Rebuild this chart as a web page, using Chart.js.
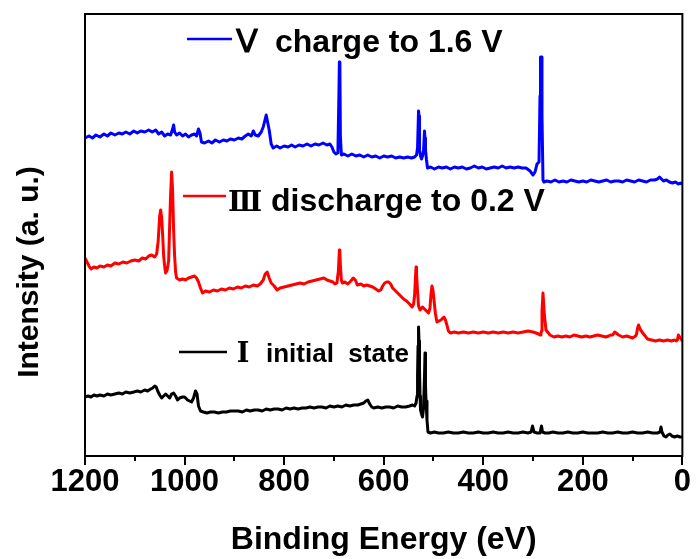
<!DOCTYPE html>
<html>
<head>
<meta charset="utf-8">
<script src="https://cdn.jsdelivr.net/npm/chart.js@4.4.1/dist/chart.umd.min.js"></script>
<style>
  html, body { margin: 0; background: #fff; }
  #wrap { width: 699px; height: 559px; }
</style>
</head>
<body>
<div id="wrap"><canvas id="xps"></canvas></div>
<script>
// ---- survey spectra: binding energy (eV) / intensity (a.u., offset per curve) ----
const chargeEnergy = [1200,1192,1185,1178,1170,1162,1155,1148,1140,1132,1125,1118,1110,1102,1095,1088,1080,1072,1065,1058,1052,1046,1040,1034,1028,1024,1022,1020,1016,1010,1004,998,992,986,980,976,972,969,966,960,952,945,938,930,922,915,908,900,892,885,878,872,866,862,858,852,846,842,838,836,834,830,826,822,815,808,800,792,785,778,770,762,754,746,738,730,722,714,708,704,700,696,692,690,689,688,687,685,680,672,664,656,648,640,632,624,616,608,600,592,584,576,568,560,552,544,538,534,532,530,529,528,526,524,522,520,518,517,516,514,512,506,498,490,482,474,466,458,450,442,434,426,418,410,402,394,386,378,370,362,354,346,338,330,322,314,306,300,296,292,288,286,285,283,282,280,278,272,264,256,248,240,232,224,216,208,200,192,184,176,168,160,152,144,136,128,120,112,104,96,88,80,72,64,56,50,46,42,38,32,26,20,14,8,4,0];
const chargeCounts = [318,320,318,321,319,322,320,323,321,323,322,324,322,325,323,325,324,326,324,326,322,324,320,322,321,327,331,324,321,323,320,322,319,321,322,320,327,323,314,313,315,313,316,314,316,315,317,316,318,317,320,322,320,325,321,320,324,329,337,341,336,326,312,308,310,308,310,309,311,309,311,310,312,310,312,311,313,311,312,309,304,302,303,360,394,392,320,301,302,300,302,300,301,299,301,299,300,298,300,299,300,298,299,298,299,298,299,301,308,345,340,306,300,297,300,305,325,318,306,296,288,289,287,289,288,289,287,289,288,289,287,288,290,288,289,287,288,289,288,290,288,289,288,289,288,288,285,281,284,292,294,360,399,399,340,276,274,275,274,276,274,275,274,276,275,274,275,274,276,275,274,275,276,274,275,275,274,276,275,274,276,275,274,276,276,277,279,277,275,276,274,273,274,272,273,272];

const dischargeEnergy = [1200,1196,1192,1188,1182,1176,1170,1162,1155,1148,1140,1132,1124,1116,1108,1100,1092,1085,1078,1072,1066,1060,1056,1053,1050,1048,1046,1044,1042,1040,1038,1035,1032,1030,1028,1026,1024,1022,1020,1018,1016,1010,1004,998,992,986,980,976,972,968,964,958,950,942,934,926,918,910,902,894,886,878,870,862,854,848,842,838,834,830,826,820,814,808,800,792,784,776,768,760,752,744,736,728,720,714,708,702,698,694,691,689,688,687,685,683,678,672,666,661,657,653,646,640,634,628,622,616,610,606,602,598,594,590,586,582,578,572,566,560,554,548,543,540,538,536,535,534,532,530,527,522,518,514,510,507,505,503,501,499,496,493,489,485,481,479,476,473,470,466,458,450,440,430,420,410,400,390,380,370,360,350,340,330,320,310,300,294,289,286,284,283,282,280,277,274,266,258,250,242,234,226,218,210,202,194,186,178,170,162,154,148,144,140,136,128,120,112,106,100,97,94,92,90,88,84,78,70,62,54,46,38,30,22,16,12,10,8,4,0];
const dischargeCounts = [198,194,190,187,189,188,190,189,191,190,193,192,194,193,195,196,195,198,197,200,201,199,202,215,240,246,238,221,200,190,183,186,195,230,262,284,265,226,200,184,178,176,177,176,178,179,180,178,174,168,163,165,164,166,165,167,166,168,167,169,168,170,169,171,170,172,176,182,184,178,173,170,166,168,169,170,171,172,173,172,174,175,176,177,178,176,175,174,172,173,185,206,204,191,176,173,174,172,175,178,176,171,172,170,171,170,169,167,165,166,170,173,174,174,172,168,166,163,160,157,155,152,149,152,160,180,189,182,165,150,146,149,147,145,143,148,162,170,166,156,142,134,135,136,138,139,136,131,125,123,124,123,124,123,124,123,124,123,124,123,124,123,124,123,124,125,124,123,122,121,123,125,145,163,140,126,121,119,120,119,120,119,121,120,119,120,119,120,121,120,119,120,121,121,124,121,119,120,119,118,119,120,122,128,131,126,122,117,116,115,116,115,116,115,116,115,116,121,118,115,114,113];

const initialEnergy = [1200,1194,1188,1182,1176,1170,1162,1155,1148,1140,1132,1125,1118,1110,1102,1095,1088,1080,1074,1068,1064,1060,1057,1054,1050,1046,1042,1038,1034,1030,1026,1022,1018,1014,1010,1004,1000,994,990,986,982,978,975,972,968,962,955,948,940,932,924,916,908,900,892,884,876,868,860,852,844,836,828,820,812,804,796,788,780,772,764,756,748,740,732,724,716,708,700,692,684,676,668,660,652,646,640,636,632,628,624,620,612,604,596,588,580,572,564,556,548,542,538,535,533,532,531,530,529,528,527,526,524,522,520,518,517,516,515,513,511,506,498,490,480,470,460,450,440,430,420,410,400,390,380,370,360,350,340,330,320,310,304,301,298,292,286,283,281,276,268,260,250,240,230,220,210,200,190,180,170,160,150,140,130,120,110,100,90,80,70,60,50,45,43,41,37,33,29,25,21,16,10,5,0];
const initialCounts = [59,60,59,61,60,61,60,62,61,62,63,62,64,63,64,65,64,66,65,67,68,70,69,65,61,58,60,62,60,58,62,63,60,56,58,59,59,56,55,54,58,65,62,50,45,44,43,44,44,43,44,44,45,45,45,44,46,45,46,46,45,47,46,47,47,46,48,47,48,47,48,48,49,48,49,49,48,50,49,50,49,51,50,51,51,52,53,55,56,52,49,48,49,48,49,49,48,50,49,49,50,51,50,53,60,80,110,129,115,86,60,46,42,39,48,80,103,70,55,36,24,23,24,23,23,24,23,23,24,23,23,24,23,23,24,23,23,24,23,23,24,23,24,30,24,23,23,30,24,23,23,24,23,23,24,23,23,24,23,23,23,24,23,23,24,23,23,24,23,23,24,23,23,24,29,24,20,19,21,22,20,19,20,19,19];

const seriesNames = ['initial  state', 'discharge to 0.2 V', 'charge to 1.6 V'];
const seriesTags = ['Ⅰ', 'Ⅲ', 'Ⅴ'];
const seriesColors = ['#000000', '#ff0000', '#0000ff'];

const xTickValues = [1200, 1000, 800, 600, 400, 200, 0];
const yTitle = 'Intensity (a. u.)';

function toPoints(xs, ys){
  return xs.map((x, i) => ({ x: x, y: ys[i] }));
}

const FONT = '"Liberation Sans", Arial, sans-serif';

// frame around the plot, outward tick marks on the energy axis, y title
const framePlugin = {
  id: 'frame',
  afterDraw(chart){
    const ctx = chart.ctx;
    const a = chart.chartArea;
    const xs = chart.scales.x;
    ctx.save();
    ctx.strokeStyle = '#000';
    ctx.lineWidth = 2;
    ctx.strokeRect(a.left, a.top, a.right - a.left, a.bottom - a.top);
    for(let v = 0; v <= 1200; v += 100){
      const px = Math.round(xs.getPixelForValue(v));
      const len = v % 200 === 0 ? 9 : 5;
      ctx.beginPath();
      ctx.moveTo(px, a.bottom);
      ctx.lineTo(px, a.bottom + len);
      ctx.stroke();
    }
    // y title sits a bit below the middle of the plot
    ctx.translate(30, 272);
    ctx.rotate(-Math.PI / 2);
    ctx.fillStyle = '#000';
    ctx.font = 'bold 30px ' + FONT;
    ctx.textAlign = 'center';
    ctx.textBaseline = 'middle';
    ctx.fillText(yTitle, 0, 0);
    ctx.restore();
  }
};

// in-plot labels: a short line sample, the roman numeral, then the state
const labelPlugin = {
  id: 'stateLabels',
  afterDraw(chart){
    const ctx = chart.ctx;
    const items = [
      { i: 2, line: [187, 232, 39], tagX: 247, tagFont: 'bold 32px ' + FONT, textX: 275, base: 52, textFont: 'bold 32px ' + FONT },
      { i: 1, line: [183, 226, 196], tagX: 245, tagFont: 'bold 28px "DejaVu Serif", serif', textX: 271, base: 211, textFont: 'bold 32px ' + FONT },
      { i: 0, line: [179, 227, 352], tagX: 243, tagFont: 'bold 27px "DejaVu Serif", serif', textX: 266, base: 362, textFont: 'bold 26px ' + FONT }
    ];
    ctx.save();
    items.forEach(it => {
      ctx.strokeStyle = seriesColors[it.i];
      ctx.lineWidth = 2.5;
      ctx.beginPath();
      ctx.moveTo(it.line[0], it.line[2]);
      ctx.lineTo(it.line[1], it.line[2]);
      ctx.stroke();
      ctx.fillStyle = '#000';
      ctx.textBaseline = 'alphabetic';
      ctx.textAlign = 'center';
      ctx.font = it.tagFont;
      ctx.fillText(seriesTags[it.i], it.tagX, it.base);
      ctx.textAlign = 'left';
      ctx.font = it.textFont;
      ctx.fillText(seriesNames[it.i], it.textX, it.base);
    });
    ctx.restore();
  }
};

const spectra = [
  toPoints(initialEnergy, initialCounts),
  toPoints(dischargeEnergy, dischargeCounts),
  toPoints(chargeEnergy, chargeCounts)
];

new Chart(document.getElementById('xps'), {
  type: 'line',
  data: {
    datasets: spectra.map((pts, i) => ({
      label: seriesNames[i],
      data: pts,
      borderColor: seriesColors[i],
      borderWidth: 3,
      borderJoinStyle: 'round',
      pointRadius: 0,
      tension: 0,
      fill: false
    }))
  },
  options: {
    responsive: true,
    maintainAspectRatio: false,
    animation: false,
    devicePixelRatio: 1,
    layout: { padding: { top: 14, right: 15, left: 0, bottom: 0 } },
    plugins: { legend: { display: false }, tooltip: { enabled: false } },
    scales: {
      x: {
        type: 'linear',
        reverse: true,
        min: 0,
        max: 1200,
        afterBuildTicks: s => { s.ticks = xTickValues.map(v => ({ value: v })); },
        afterFit: s => { s.height = 103; },
        ticks: {
          color: '#000',
          font: { family: FONT, size: 31, weight: 'bold' },
          padding: 8,
          maxRotation: 0,
          autoSkip: false,
          callback: v => String(v)
        },
        grid: { display: false, drawTicks: false },
        border: { display: false },
        title: {
          display: true,
          text: 'Binding Energy (eV)',
          color: '#000',
          font: { family: FONT, size: 32, weight: 'bold' },
          padding: { top: 2, bottom: 0 }
        }
      },
      y: {
        min: 0,
        max: 442,
        afterFit: s => { s.width = 85; },
        ticks: { display: false },
        grid: { display: false, drawTicks: false },
        border: { display: false },
        title: { display: false }
      }
    }
  },
  plugins: [framePlugin, labelPlugin]
});
</script>
</body>
</html>
